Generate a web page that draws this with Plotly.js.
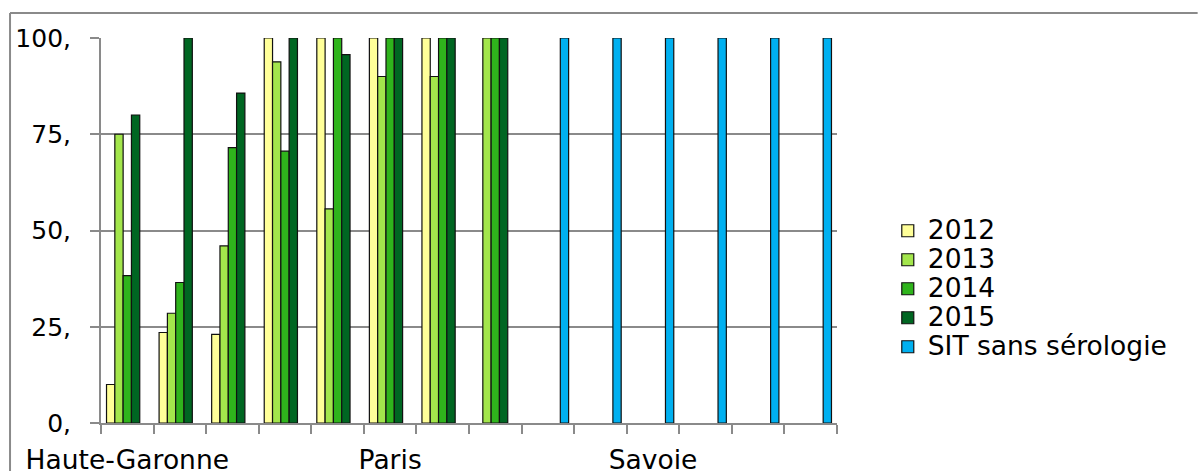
<!DOCTYPE html>
<html>
<head>
<meta charset="utf-8">
<script src="https://cdn.plot.ly/plotly-3.0.1.min.js"></script>
<style>html,body{margin:0;padding:0;background:#fff;}#chart{width:1199px;height:471px;}</style>
</head>
<body>
<div id="chart"></div>
<script>
// Category slots (14), labels shown every 5th slot as in the source
var categoryLabels = ['Haute-Garonne', '', '', '', '', 'Paris', '', '', '', '', 'Savoie', '', '', ''];
var seriesNames = ['2012', '2013', '2014', '2015', 'SIT sans sérologie'];
var values2012 = [10, 23.5, 23, 100, 100, 100, 100, null, null, null, null, null, null, null];
var values2013 = [75, 28.5, 46, 93.8, 55.6, 90, 90, 100, null, null, null, null, null, null];
var values2014 = [38.3, 36.5, 71.5, 70.6, 100, 100, 100, 100, null, null, null, null, null, null];
var values2015 = [80, 100, 85.7, 100, 95.7, 100, 100, 100, null, null, null, null, null, null];
var valuesSIT  = [null, null, null, null, null, null, null, null, 100, 100, 100, 100, 100, 100];
var yTickValues = [0, 25, 50, 75, 100];
var yTickLabels = ['0,', '25,', '50,', '75,', '100,'];

var seriesValues = [values2012, values2013, values2014, values2015, valuesSIT];
var seriesColors = ['#FFFF99', '#A3E64C', '#2FB41C', '#006622', '#00B0F0'];

var xPos = categoryLabels.map(function (_, i) { return i; });
var labelVals = [], labelText = [];
categoryLabels.forEach(function (l, i) { if (l) { labelVals.push(i); labelText.push(l); } });
var boundaries = xPos.map(function (i) { return i - 0.5; }).concat([categoryLabels.length - 0.5]);

var traces = seriesValues.map(function (vals, k) {
  return {
    type: 'bar',
    x: xPos,
    y: vals,
    name: '<span style="font-size:26.5px">' + seriesNames[k] + '</span>',
    marker: { color: seriesColors[k], line: { color: '#111111', width: 1.2 } },
    hoverinfo: 'y'
  };
});

var grid = '#8a8a8a';
var layout = {
  width: 1199, height: 471,
  margin: { l: 101, r: 362, t: 38, b: 48 },
  paper_bgcolor: '#ffffff', plot_bgcolor: '#ffffff',
  font: { family: 'DejaVu Sans, Verdana, sans-serif', size: 25, color: '#000' },
  barmode: 'group', bargap: 0.21, bargroupgap: 0,
  showlegend: true,
  legend: {
    x: 1.069, xanchor: 'left', y: 0.55, yanchor: 'top',
    font: { size: 20, color: '#000' },
    bgcolor: 'rgba(0,0,0,0)', borderwidth: 0
  },
  xaxis: {
    range: [-0.5, categoryLabels.length - 0.5],
    tickmode: 'array', tickvals: labelVals, ticktext: labelText,
    ticks: '', showgrid: false, zeroline: false,
    showline: true, linecolor: grid, linewidth: 2,
    tickfont: { size: 26.5, color: '#000' },
    ticklabelstandoff: 12,
    minor: { tickmode: 'array', tickvals: boundaries, ticks: 'outside', ticklen: 9, tickwidth: 2, tickcolor: grid, showgrid: false },
    fixedrange: true
  },
  yaxis: {
    range: [0, 100],
    tickmode: 'array', tickvals: yTickValues, ticktext: yTickLabels,
    ticks: 'outside', ticklen: 9, tickwidth: 2, tickcolor: grid,
    showgrid: true, gridcolor: grid, gridwidth: 2,
    zeroline: false, showline: true, linecolor: grid, linewidth: 2,
    tickfont: { size: 25, color: '#000' },
    ticklabelstandoff: 14,
    fixedrange: true
  },
  shapes: [
    { type: 'line', xref: 'paper', yref: 'paper', x0: -0.1236, x1: 1.49, y0: 1.065, y1: 1.065, line: { color: grid, width: 2 } },
    { type: 'line', xref: 'paper', yref: 'paper', x0: -0.1236, x1: -0.1236, y0: 1.065, y1: -0.2, line: { color: grid, width: 2 } }
  ]
};

Plotly.newPlot('chart', traces, layout, { displayModeBar: false, staticPlot: true });
</script>
</body>
</html>
